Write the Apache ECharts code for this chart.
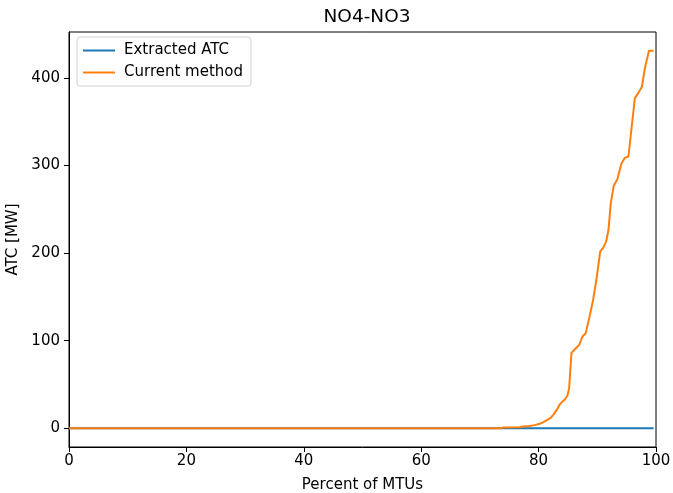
<!DOCTYPE html>
<html>
<head>
<meta charset="utf-8">
<script src="https://cdn.jsdelivr.net/npm/echarts@6/dist/echarts.min.js"></script>
<style>
  html, body { margin: 0; padding: 0; background: #fff; }
  #chart { width: 673px; height: 493px; }
</style>
</head>
<body>
<div id="chart"></div>
<script>
// extracted ATC: flat at zero over the whole range
const extractedPct = [0, 99.6]
const extractedVals = [0, 0]

// current method, sorted ATC vs percent of MTUs
const currentPct = [0, 73.6, 74.0, 76.8, 77.3, 78.5, 79.3, 80.2, 80.8, 81.5, 82.1, 82.6, 83.2, 83.6,
  84.0, 84.5, 84.9, 85.2, 85.6, 86.3, 86.9, 87.5, 88.0, 88.7, 89.3, 89.9, 90.5, 91.0, 91.5, 91.9,
  92.3, 92.8, 93.4, 94.1, 94.7, 95.3, 96.4, 97.0, 97.6, 98.1, 98.8, 99.6]
const currentVals = [0, 0, 0.8, 1, 2, 2.5, 3.5, 5, 7, 9.5, 12, 16, 22, 27,
  30, 33, 37, 45, 86, 91, 95, 105, 108, 128, 147, 172, 202, 206, 213, 226,
  257, 277, 284, 302, 309, 310, 377, 383, 390, 411, 431, 431]

const xTicks = [0, 20, 40, 60, 80, 100]
const yTicks = [0, 100, 200, 300, 400]

const font = 'DejaVu Sans'
const pairs = (xs, ys) => xs.map((x, i) => [x, ys[i]])

const chart = echarts.init(document.getElementById('chart'), null, { renderer: 'canvas' })
chart.setOption({
  animation: false,
  backgroundColor: '#fff',
  title: {
    text: 'NO4-NO3',
    left: 362,
    top: 3,
    textAlign: 'center',
    textStyle: { fontFamily: font, fontSize: 18.5, fontWeight: 'normal', color: '#000' }
  },
  legend: {
    orient: 'vertical',
    left: 77,
    top: 37,
    padding: [6, 8, 6, 6],
    itemGap: 7,
    itemWidth: 32,
    itemHeight: 2,
    icon: 'rect',
    backgroundColor: '#fff',
    borderColor: '#d0d0d0',
    borderWidth: 1,
    borderRadius: 3,
    textStyle: { fontFamily: font, fontSize: 15, color: '#000', padding: [0, 0, 0, 4] },
    data: ['Extracted ATC', 'Current method']
  },
  grid: {
    left: 69, right: 17, top: 32, bottom: 46,
    outerBoundsMode: 'none',
    containLabel: false,
    show: true, borderColor: '#000', borderWidth: 1
  },
  xAxis: {
    type: 'value',
    min: 0, max: 100, interval: 20,
    name: 'Percent of MTUs',
    nameLocation: 'middle',
    nameGap: 31,
    nameTextStyle: { fontFamily: font, fontSize: 15, color: '#000' },
    axisLine: { show: true, onZero: false, lineStyle: { color: '#000', width: 1 } },
    axisTick: { show: true, inside: false, length: 5, lineStyle: { color: '#000' } },
    axisLabel: {
      margin: 7, fontFamily: font, fontSize: 15, color: '#000',
      customValues: xTicks
    },
    splitLine: { show: false }
  },
  yAxis: {
    type: 'value',
    min: -21.5, max: 452.5,
    name: 'ATC [MW]',
    nameLocation: 'middle',
    nameGap: 40,
    nameTextStyle: { fontFamily: font, fontSize: 15, color: '#000' },
    axisLine: { show: true, onZero: false, lineStyle: { color: '#000', width: 1 } },
    axisTick: { show: true, inside: false, length: 5, lineStyle: { color: '#000' }, customValues: yTicks },
    axisLabel: {
      margin: 9, fontFamily: font, fontSize: 15, color: '#000',
      customValues: yTicks
    },
    splitLine: { show: false }
  },
  series: [
    {
      name: 'Extracted ATC',
      type: 'line',
      data: pairs(extractedPct, extractedVals),
      showSymbol: false,
      color: '#1f77b4',
      lineStyle: { width: 2, color: '#1f77b4' }
    },
    {
      name: 'Current method',
      type: 'line',
      data: pairs(currentPct, currentVals),
      showSymbol: false,
      color: '#ff7f0e',
      lineStyle: { width: 2, color: '#ff7f0e' }
    }
  ]
})
</script>
</body>
</html>
